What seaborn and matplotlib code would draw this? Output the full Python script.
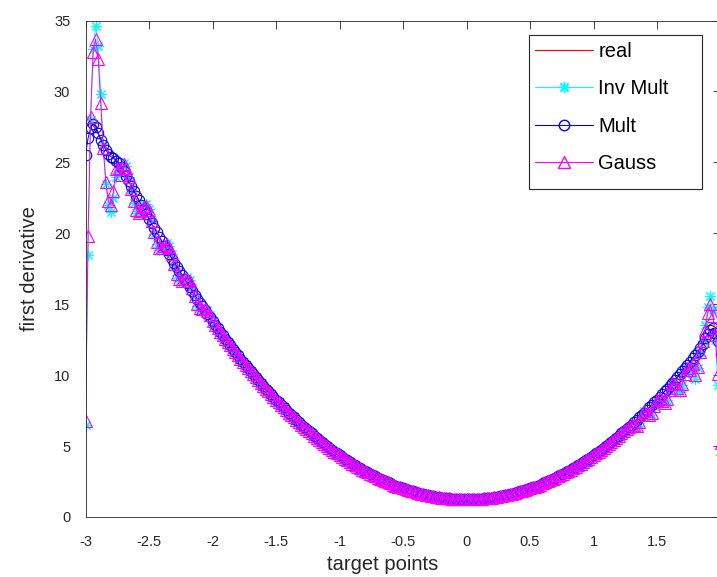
import numpy as np
import pandas as pd
import matplotlib
matplotlib.use("Agg")
import matplotlib.pyplot as plt
from matplotlib.patches import Rectangle
from matplotlib.lines import Line2D
import seaborn as sns

# ---------------- data ----------------
target_points = np.round(np.arange(-3.0, 2.0001, 0.02), 2)

real_values = [
    28.30, 28.10, 27.90, 27.60, 27.30, 27.00, 26.70, 26.40, 26.10, 25.80,
    25.60, 25.40, 25.20, 25.00, 24.73, 24.38, 24.03, 23.68, 23.34, 23.00,
    22.66, 22.33, 22.00, 21.67, 21.34, 21.02, 20.69, 20.38, 20.06, 19.75,
    19.44, 19.13, 18.83, 18.52, 18.22, 17.93, 17.64, 17.35, 17.06, 16.77,
    16.49, 16.21, 15.93, 15.66, 15.38, 15.12, 14.85, 14.59, 14.32, 14.07,
    13.81, 13.56, 13.31, 13.06, 12.81, 12.57, 12.33, 12.09, 11.86, 11.63,
    11.40, 11.17, 10.95, 10.73, 10.51, 10.29, 10.08, 9.87, 9.66, 9.45,
    9.25, 9.05, 8.85, 8.66, 8.47, 8.28, 8.09, 7.90, 7.72, 7.54,
    7.36, 7.19, 7.02, 6.85, 6.68, 6.52, 6.36, 6.20, 6.04, 5.89,
    5.73, 5.59, 5.44, 5.30, 5.15, 5.02, 4.88, 4.75, 4.61, 4.49,
    4.36, 4.24, 4.12, 4.00, 3.88, 3.77, 3.66, 3.55, 3.44, 3.34,
    3.24, 3.14, 3.04, 2.95, 2.86, 2.77, 2.69, 2.60, 2.52, 2.44,
    2.37, 2.29, 2.22, 2.15, 2.09, 2.03, 1.96, 1.91, 1.85, 1.80,
    1.75, 1.70, 1.65, 1.61, 1.57, 1.53, 1.49, 1.46, 1.43, 1.40,
    1.37, 1.35, 1.33, 1.31, 1.29, 1.28, 1.27, 1.26, 1.26, 1.25,
    1.25, 1.25, 1.26, 1.26, 1.27, 1.28, 1.29, 1.31, 1.33, 1.35,
    1.37, 1.40, 1.43, 1.46, 1.49, 1.53, 1.57, 1.61, 1.65, 1.70,
    1.75, 1.80, 1.85, 1.91, 1.96, 2.03, 2.09, 2.15, 2.22, 2.29,
    2.37, 2.44, 2.52, 2.60, 2.69, 2.77, 2.86, 2.95, 3.04, 3.14,
    3.24, 3.34, 3.44, 3.55, 3.66, 3.77, 3.88, 4.00, 4.12, 4.24,
    4.36, 4.49, 4.61, 4.75, 4.88, 5.02, 5.15, 5.30, 5.44, 5.59,
    5.73, 5.89, 6.04, 6.20, 6.36, 6.52, 6.68, 6.85, 7.02, 7.19,
    7.36, 7.54, 7.72, 7.90, 8.09, 8.28, 8.47, 8.66, 8.85, 9.05,
    9.25, 9.45, 9.66, 9.87, 10.08, 10.29, 10.51, 10.73, 10.95, 11.17,
    11.40, 11.63, 11.86, 12.09, 12.33, 12.57, 12.81, 13.06, 13.31, 13.56,
    13.81,
]

# edge behaviour of the approximations (first 15 points from x=-3, last 12 up to x=2)
inv_mult_left = [6.5, 18.5, 28.0, 33.0, 34.6, 33.2, 29.8, 26.2, 23.5, 22.0, 21.5, 22.5, 24.0, 24.4, 24.2]
inv_mult_right = [10.6, 9.7, 10.5, 11.6, 12.4, 13.5, 14.8, 15.6, 14.6, 12.5, 9.3, 4.4]
mult_left = [25.5, 26.7, 27.4, 27.7, 27.5, 27.1, 26.6, 26.2, 25.9, 25.6, 25.4, 25.3, 25.1, 24.95, 24.7]
mult_right = [11.2, 11.4, 11.6, 11.9, 12.2, 12.6, 12.9, 13.2, 13.3, 13.0, 12.4, 11.5]
gauss_left = [6.8, 19.8, 28.2, 32.8, 33.7, 32.3, 29.2, 26.0, 23.6, 22.3, 22.0, 23.0, 24.5, 24.6, 24.1]
gauss_right = [10.8, 10.0, 10.6, 11.6, 12.4, 13.2, 14.4, 15.0, 14.2, 12.8, 10.1, 5.2]

# ripples of the approximations around the real curve
# x = -2.70 ... -2.00 (36 points)
gauss_ripple_left = [0.5, 0.6, 0.3, -0.2, -0.7, -1.0, -0.9, -0.4, 0.2, 0.6, 0.6, 0.2,
                     -0.3, -0.7, -0.8, -0.5, 0.0, 0.4, 0.5, 0.3, -0.1, -0.5, -0.6, -0.4,
                     0.0, 0.3, 0.4, 0.2, -0.1, -0.4, -0.4, -0.2, 0.1, 0.2, 0.2, 0.0]
inv_mult_ripple_left = [0.6, 0.7, 0.3, -0.3, -0.9, -1.2, -1.0, -0.4, 0.3, 0.7, 0.7, 0.2,
                        -0.4, -0.8, -0.9, -0.5, 0.0, 0.5, 0.6, 0.3, -0.2, -0.6, -0.7, -0.4,
                        0.0, 0.4, 0.5, 0.2, -0.1, -0.5, -0.5, -0.2, 0.1, 0.3, 0.2, 0.0]
# x = 1.30 ... 1.76 (24 points)
gauss_ripple_right = [0.0, -0.2, -0.4, -0.3, 0.0, 0.1, -0.2, -0.5, -0.6, -0.3, 0.0, -0.1,
                      -0.5, -0.8, -0.7, -0.3, 0.0, -0.3, -0.8, -1.1, -0.9, -0.4, -0.2, -0.6]
inv_mult_ripple_right = [0.0, -0.2, -0.5, -0.4, 0.0, 0.1, -0.3, -0.6, -0.7, -0.3, 0.0, -0.2,
                         -0.6, -0.9, -0.8, -0.3, 0.0, -0.4, -0.9, -1.3, -1.0, -0.4, -0.2, -0.7]

series_names = ["real", "Inv Mult", "Mult", "Gauss"]
x_ticks = [-3, -2.5, -2, -1.5, -1, -0.5, 0, 0.5, 1, 1.5, 2]
x_tick_labels = ["-3", "-2.5", "-2", "-1.5", "-1", "-0.5", "0", "0.5", "1", "1.5", "2"]
y_ticks = [0, 5, 10, 15, 20, 25, 30, 35]


def build(base, left, right, ripple_l=None, ripple_r=None):
    v = np.array(base, dtype=float)
    if ripple_l is not None:
        i0 = 15  # x = -2.70
        v[i0:i0 + len(ripple_l)] += np.array(ripple_l)
    if ripple_r is not None:
        i0 = 215  # x = 1.30
        v[i0:i0 + len(ripple_r)] += np.array(ripple_r)
    v[:len(left)] = left
    v[len(v) - len(right):] = right
    return v


inv_mult_values = build(real_values, inv_mult_left, inv_mult_right,
                        inv_mult_ripple_left, inv_mult_ripple_right)
mult_values = build(real_values, mult_left, mult_right)
gauss_values = build(real_values, gauss_left, gauss_right,
                     gauss_ripple_left, gauss_ripple_right)

df = pd.DataFrame({
    "x": target_points,
    "real": real_values,
    "Inv Mult": inv_mult_values,
    "Mult": mult_values,
    "Gauss": gauss_values,
})

# ---------------- style ----------------
sns.set_theme(style="white")
plt.rcParams["font.family"] = ["Liberation Sans", "DejaVu Sans"]
axis_col = "#262626"

W, H = 717, 577
fig = plt.figure(figsize=(W / 100, H / 100), dpi=100)
ax = fig.add_axes([85.5 / W, 60 / H, 635 / W, 496.5 / H])

styles = {
    "real": dict(color="#ff0000", marker=None, ms=0, lw=0.7),
    "Inv Mult": dict(color="#00ffff", marker=(8, 2, 0), ms=8, lw=0.7),
    "Mult": dict(color="#0000ff", marker="o", ms=7.5, lw=0.7),
    "Gauss": dict(color="#ff00ff", marker="^", ms=9, lw=0.7),
}

for name in series_names:
    st = styles[name]
    kw = dict(color=st["color"], linewidth=st["lw"])
    if st["marker"] is not None:
        kw.update(marker=st["marker"], markersize=st["ms"], markerfacecolor="none",
                  markeredgecolor=st["color"], markeredgewidth=0.8)
    sns.lineplot(data=df, x="x", y=name, ax=ax, estimator=None, sort=False,
                 legend=False, **kw)

ax.set_xlim(-3, 2)
ax.set_ylim(0, 35)
ax.set_xticks(x_ticks)
ax.set_xticklabels(x_tick_labels)
ax.set_yticks(y_ticks)
ax.set_yticklabels([str(v) for v in y_ticks])

for s in ax.spines.values():
    s.set_visible(True)
    s.set_color(axis_col)
    s.set_linewidth(0.6)

ax.tick_params(axis="both", direction="in", length=6, width=0.6, color=axis_col,
               top=True, right=True, labelsize=10.5, labelcolor=axis_col)
ax.tick_params(axis="x", pad=13)
ax.tick_params(axis="y", pad=11)

ax.set_xlabel("target points", fontsize=14.5, color=axis_col)
ax.xaxis.set_label_coords((383 - 85.5) / 635, -(565 - 517) / 496.5)
ax.xaxis.label.set_va("center")
ax.set_ylabel("first derivative", fontsize=14.5, color=axis_col)
ax.yaxis.set_label_coords(-(85.5 - 30) / 635, 0.5)
ax.yaxis.label.set_va("center")

# legend box
fig.patches.append(Rectangle((529 / W, 1 - 189 / H), (702 - 529) / W, (189 - 35) / H,
                             transform=fig.transFigure, facecolor="white",
                             edgecolor=axis_col, linewidth=0.8, zorder=5))
handles = []
for name in series_names:
    st = styles[name]
    if st["marker"] is None:
        h = Line2D([], [], color=st["color"], linewidth=0.8)
    else:
        h = Line2D([], [], color=st["color"], linewidth=0.8, marker=st["marker"],
                   markersize=st["ms"], markerfacecolor="none",
                   markeredgecolor=st["color"], markeredgewidth=1.0)
    handles.append(h)
leg = fig.legend(handles, series_names, loc="upper left",
                 bbox_to_anchor=(529 / W, 1 - 36 / H), bbox_transform=fig.transFigure,
                 fontsize=14.5, handlelength=2.9, handletextpad=0.25, labelspacing=0.91,
                 borderpad=0.3, borderaxespad=0, numpoints=1, frameon=False)
leg.set_zorder(6)
for t in leg.get_texts():
    t.set_color("black")

fig.savefig("out.png", dpi=100)
